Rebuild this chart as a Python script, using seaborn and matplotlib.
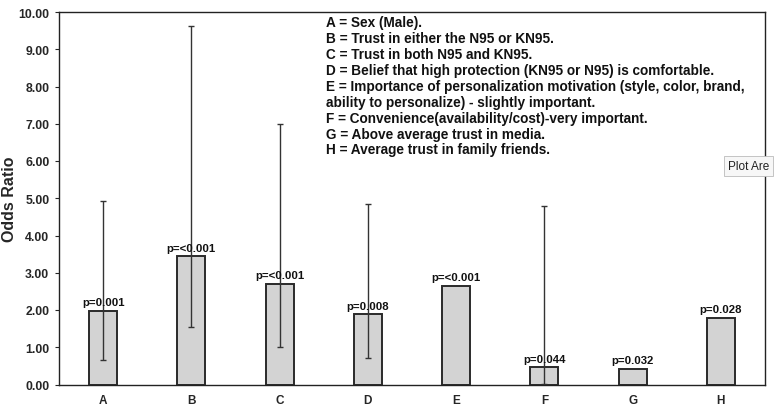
import matplotlib
matplotlib.use("Agg")
import matplotlib.pyplot as plt
import seaborn as sns
import pandas as pd
import numpy as np

categories = ["A", "B", "C", "D", "E", "F", "G", "H"]
odds = [1.98, 3.44, 2.70, 1.88, 2.64, 0.46, 0.42, 1.78]
ci_low = [0.65, 1.54, 1.02, 0.72, np.nan, 0.02, np.nan, np.nan]
ci_high = [4.92, 9.62, 6.98, 4.85, np.nan, 4.78, np.nan, np.nan]
p_labels = ["p=0.001", "p=<0.001", "p=<0.001", "p=0.008", "p=<0.001", "p=0.044", "p=0.032", "p=0.028"]
y_ticks = [0, 1, 2, 3, 4, 5, 6, 7, 8, 9, 10]
legend_lines = [
    "A = Sex (Male).",
    "B = Trust in either the N95 or KN95.",
    "C = Trust in both N95 and KN95.",
    "D = Belief that high protection (KN95 or N95) is comfortable.",
    "E = Importance of personalization motivation (style, color, brand,",
    "ability to personalize) - slightly important.",
    "F = Convenience(availability/cost)-very important.",
    "G = Above average trust in media.",
    "H = Average trust in family friends.",
]

sns.set_style("white")
plt.rcParams["font.family"] = ["Liberation Sans", "DejaVu Sans"]

df = pd.DataFrame({"cat": categories, "odds": odds})

fig = plt.figure(figsize=(7.74, 4.06), dpi=100)
ax = fig.add_axes([59 / 774, 20.5 / 406, 706 / 774, 372.5 / 406])

sns.barplot(data=df, x="cat", y="odds", ax=ax, color="#d3d3d3",
            edgecolor="#2a2a2a", linewidth=1.4, width=0.32, saturation=1)

x = np.arange(len(categories))
o = np.array(odds)
lo = np.array(ci_low)
hi = np.array(ci_high)
mask = ~np.isnan(lo)
ax.errorbar(x[mask], o[mask], yerr=[o[mask] - lo[mask], hi[mask] - o[mask]],
            fmt="none", ecolor="#333333", elinewidth=1.0, capsize=2.5, capthick=1.0)

for xi, v, lab in zip(x, odds, p_labels):
    ax.text(xi, v + 0.1, lab, ha="center", va="bottom", fontsize=8.2,
            fontweight="bold", color="#111111")

ax.set_ylim(0, 10)
ax.set_xlim(-0.5, len(categories) - 0.5)
ax.set_yticks(y_ticks)
ax.set_yticklabels([f"{t:.2f}" for t in y_ticks], fontsize=8.8, fontweight="bold")
ax.set_xticks(x)
ax.set_xticklabels(categories, fontsize=8.5, fontweight="bold")
ax.tick_params(axis="y", which="both", left=True, length=3, width=0.8, pad=4)
ax.tick_params(axis="x", which="both", bottom=False, pad=3)
ax.set_xlabel("")
ax.set_ylabel("Odds Ratio", fontsize=11.5, fontweight="bold", labelpad=1)
for s in ax.spines.values():
    s.set_visible(True)
    s.set_color("#222222")
    s.set_linewidth(1.0)

fig.text(326 / 774, 1 - 16.5 / 406, "\n".join(legend_lines),
         ha="left", va="top", fontsize=9.8, fontweight="bold",
         linespacing=1.17, color="#111111")

fig.text(728 / 774, 1 - 167 / 406, "Plot Are", ha="left", va="center", fontsize=8.5,
         color="#222222", zorder=10,
         bbox=dict(boxstyle="square,pad=0.35", facecolor="#f7f7f7", edgecolor="#bbbbbb", linewidth=0.6))

fig.savefig("out.png", dpi=100)
